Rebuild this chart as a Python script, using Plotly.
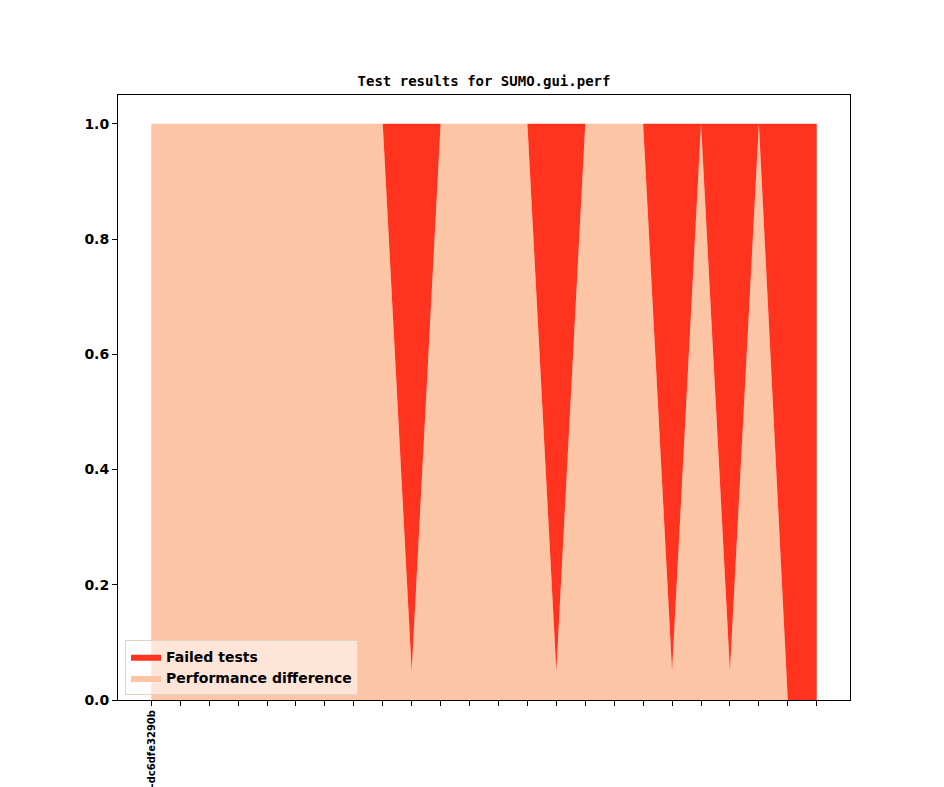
import plotly.graph_objects as go

# commits along the x axis (only the first one is labelled)
commits = list(range(24))
tick_text = ['-dc6dfe3290b'] + [''] * 23

perf_diff = [1, 1, 1, 1, 1, 1, 1, 1, 1, 0.05, 1, 1, 1, 1, 0.05, 1, 1, 1, 0.05, 1, 0.05, 1, 0, 0]
failed = [0, 0, 0, 0, 0, 0, 0, 0, 0, 0.95, 0, 0, 0, 0, 0.95, 0, 0, 0, 0.95, 0, 0.95, 0, 1, 1]

color_failed = 'rgb(255, 51, 30)'
color_perf = 'rgb(252, 197, 166)'

fig = go.Figure()

fig.add_trace(go.Scatter(x=commits, y=perf_diff,
                         mode='lines',
                         name='Performance difference',
                         stackgroup='one',
                         line=dict(width=0, color=color_perf),
                         fillcolor=color_perf))
fig.add_trace(go.Scatter(x=commits, y=failed,
                         mode='lines',
                         name='Failed tests',
                         stackgroup='one',
                         line=dict(width=0, color=color_failed),
                         fillcolor=color_failed))

tick_font = dict(family='DejaVu Sans', size=14, color='black', weight='bold')

# the page puts the figure 8px in from the top-left corner
fig.update_layout(
    width=944, height=787,
    template='none',
    paper_bgcolor='white',
    plot_bgcolor='white',
    margin=dict(l=110, r=102, t=87, b=95),
    title=dict(text='Test results for SUMO.gui.perf',
               x=0.5, xref='paper', xanchor='center',
               y=1 - 73 / 787, yanchor='middle',
               font=dict(family='DejaVu Sans Mono', size=14, color='black', weight='bold')),
    showlegend=True,
    legend=dict(x=0.0096, y=0.008, xanchor='left', yanchor='bottom',
                traceorder='reversed',
                bgcolor='rgba(255,255,255,0.55)',
                bordercolor='rgb(225,210,200)', borderwidth=1,
                font=dict(family='DejaVu Sans', size=14, color='black', weight='bold')),
)

fig.update_xaxes(range=[-1.15, 24.15],
                 tickvals=commits, ticktext=tick_text,
                 tickangle=-90,
                 tickfont=dict(family='DejaVu Sans', size=10, color='black', weight='bold'),
                 ticks='outside', ticklen=5, tickwidth=1, tickcolor='black',
                 showgrid=False, zeroline=False, automargin=False,
                 showline=True, linecolor='black', linewidth=1, mirror=True)
fig.update_yaxes(range=[0, 1.05],
                 tickvals=[0, 0.2, 0.4, 0.6, 0.8, 1.0],
                 ticktext=['0.0', '0.2', '0.4', '0.6', '0.8', '1.0'],
                 tickfont=tick_font,
                 ticks='outside', ticklen=5, tickwidth=1, tickcolor='black',
                 showgrid=False, zeroline=False, automargin=False,
                 showline=True, linecolor='black', linewidth=1, mirror=True)

fig.write_html('out.html')
